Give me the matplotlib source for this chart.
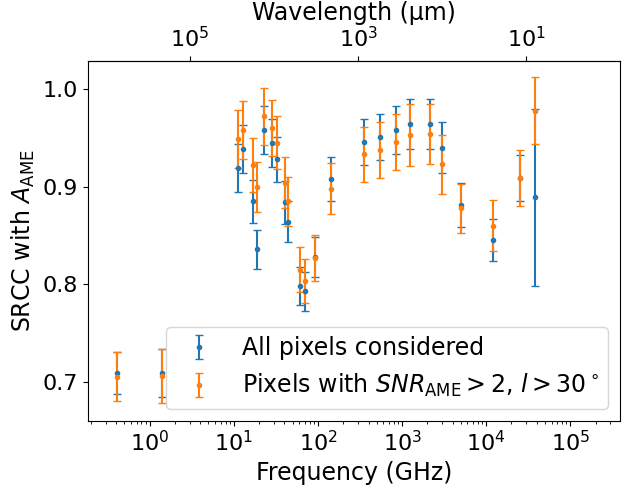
import numpy as np
import matplotlib
matplotlib.use('Agg')
from matplotlib import pyplot as plt
import matplotlib.ticker as ticker

plt.rcParams['font.size'] = 17
plt.rcParams['xtick.labelsize'] = 16
plt.rcParams['ytick.labelsize'] = 16

# frequencies of the maps (GHz)
freqs = [0.408, 1.42, 11.2, 12.9, 16.8, 18.8, 22.8, 28.4, 33.0, 40.6, 44.1,
         60.8, 70.4, 93.5, 143, 353, 545, 857, 1249, 2141, 2998, 4997,
         11992, 24983, 38000]

# all pixels
srcc_all = [0.709, 0.709, 0.919, 0.939, 0.885, 0.836, 0.958, 0.945, 0.928,
            0.884, 0.864, 0.798, 0.793, 0.828, 0.908, 0.946, 0.951, 0.958,
            0.964, 0.964, 0.940, 0.881, 0.845, 0.909, 0.889]
err_all = [0.0215, 0.0245, 0.0245, 0.0245, 0.022, 0.020, 0.0248, 0.0244, 0.0233,
           0.022, 0.021, 0.0197, 0.020, 0.0204, 0.0225, 0.0235, 0.0238, 0.0245,
           0.0256, 0.0256, 0.0264, 0.0228, 0.0217, 0.0235, 0.0907]

# SNR > 2, |b| > 30 deg
srcc_snr = [0.705, 0.706, 0.949, 0.958, 0.922, 0.900, 0.972, 0.960, 0.945,
            0.904, 0.885, 0.815, 0.803, 0.827, 0.898, 0.933, 0.938, 0.946,
            0.953, 0.954, 0.923, 0.878, 0.860, 0.909, 0.978]
err_snr = [0.0253, 0.0278, 0.0296, 0.0295, 0.0276, 0.0256, 0.0292, 0.029, 0.0273,
           0.026, 0.025, 0.023, 0.0225, 0.0234, 0.0263, 0.028, 0.0288, 0.0287,
           0.0317, 0.0307, 0.030, 0.025, 0.0263, 0.0284, 0.0346]

freq_ticks = [1e0, 1e1, 1e2, 1e3, 1e4, 1e5]
wl_ticks = [1e5, 1e3, 1e1]


def ghz_to_um(f):
    return 3e5 / np.asarray(f, dtype=float)


fig = plt.figure(figsize=(6.25, 4.86), dpi=100)
ax = fig.add_axes([0.1408, 0.1344, 0.8512, 0.7411])

ax.errorbar(freqs, srcc_all, yerr=err_all, fmt='.', capsize=3,
            label="All pixels considered")
ax.errorbar(freqs, srcc_snr, yerr=err_snr, fmt='.', capsize=3,
            label=r"Pixels with $SNR_{\rm AME} > 2$, $l > 30^\circ$")

ax.set_xscale('log')
ax.set_xlim(0.185, 3.9e5)
ax.set_xticks(freq_ticks)
ax.xaxis.set_minor_locator(ticker.LogLocator(base=10, subs=np.arange(2, 10), numticks=20))
ax.set_ylim(0.66, 1.0294)
ax.set_yticks([0.7, 0.8, 0.9, 1.0])
ax.set_xlabel("Frequency (GHz)")
ax.set_ylabel(r"SRCC with $A_{\rm AME}$")

top = ax.secondary_xaxis('top', functions=(ghz_to_um, ghz_to_um))
top.set_xticks(wl_ticks)
top.xaxis.set_minor_locator(ticker.NullLocator())
top.set_xlabel("Wavelength (μm)")

ax.legend(loc='lower right')

plt.savefig("out.png", dpi=100)
